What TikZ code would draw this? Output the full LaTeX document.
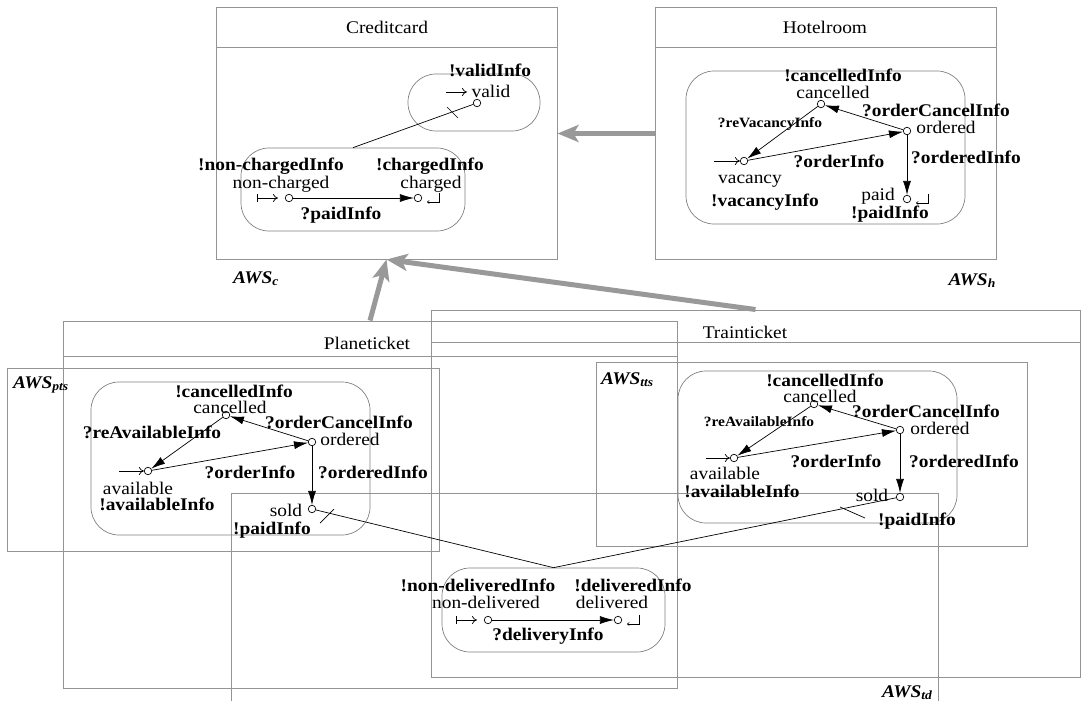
\documentclass[tikz,border=0pt]{standalone}
\usepackage{fontspec}
\setmainfont{Liberation Serif}[FakeStretch=1.09]
\usetikzlibrary{arrows.meta}

% end marker of a final state
\newcommand{\finmark}[1]{\draw[line width=0.6pt,-{To[length=2.5pt,width=3.5pt]}] ([shift={(21,-5)}]#1.center) -- ++(0,9) -- ++(-12,0);}

\begin{document}
\begin{tikzpicture}[x=1pt,y=-1pt,
    frame/.style={draw=black!42,line width=1pt,inner sep=0pt},
    region/.style={draw=black!50,line width=0.7pt,rounded corners=28pt,inner sep=0pt},
    st/.style={circle,draw,fill=white,inner sep=0pt,minimum size=7.5pt,line width=0.7pt},
    txt/.style={inner sep=0pt,text height=12pt,text depth=0pt},
    nm/.style={txt,font=\fontsize{17.8}{20}\selectfont},
    ev/.style={txt,font=\fontsize{17.8}{20}\selectfont\bfseries},
    evs/.style={inner sep=0pt,text height=10pt,text depth=0pt,font=\fontsize{14.2}{16}\selectfont\bfseries},
    aws/.style={txt,font=\fontsize{17.8}{20}\selectfont\bfseries\itshape},
    init/.style={line width=0.7pt,-{To[length=5pt,width=8pt]}},
    initbar/.style={line width=0.7pt,{Bar[width=8pt]}-{To[length=5pt,width=8pt]}},
    tr/.style={line width=0.7pt,-{Latex[length=14pt,width=8pt]}},
    link/.style={line width=0.7pt},
    inherit/.style={draw=black!40,line width=5pt,-{Stealth[length=21pt,width=17pt,inset=5pt]}}]
  \useasboundingbox (0,0) rectangle (1082,701);

  % outer frames
  \node[frame,minimum width=341pt,minimum height=251pt] (cc) at (386.5,133.5) {};
  \draw[frame] ([yshift=-40pt]cc.north west) -- ([yshift=-40pt]cc.north east);
  \node[frame,minimum width=341pt,minimum height=251pt] (hr) at (825.5,133.5) {};
  \draw[frame] ([yshift=-40pt]hr.north west) -- ([yshift=-40pt]hr.north east);
  \node[frame,minimum width=614pt,minimum height=367pt] (pt) at (370,504.5) {};
  \draw[frame] ([yshift=-36pt]pt.north west) -- ([yshift=-36pt]pt.north east);
  \node[frame,minimum width=649pt,minimum height=367pt] (tt) at (755.5,493.5) {};
  \draw[frame] ([yshift=-33pt]tt.north west) -- ([yshift=-33pt]tt.north east);
  \node[frame,minimum width=432pt,minimum height=183pt] (pts) at (223,459.5) {};
  \node[frame,minimum width=431pt,minimum height=184pt] (tts) at (811.5,454) {};
  \draw[frame] (231,705) -- (231,493) -- (938,493) -- (938,705);

  \node[nm] (ccname) at (387,28) {Creditcard};
  \node[nm] (hrname) at (825,28) {Hotelroom};
  \node[nm] (ptname) at (367,343) {Planeticket};
  \node[nm] (ttname) at (745,332) {Trainticket};
  \node[aws,anchor=west] (awsc) at (233,277) {AWS\textsubscript{c}};
  \node[aws,anchor=east] (awsh) at (996,279) {AWS\textsubscript{h}};
  \node[aws,anchor=west] (awspts) at (13,382) {AWS\textsubscript{pts}};
  \node[aws,anchor=west] (awstts) at (601,378) {AWS\textsubscript{tts}};
  \node[aws,anchor=west] (awstd) at (882,691) {AWS\textsubscript{td}};

  % inheritance
  \draw[inherit] (hr.west) -- (cc.east);
  \draw[inherit] (tt.north) -- (cc.south);
  \draw[inherit] (pt.north) -- (cc.south);

  % Creditcard
  \node[region,minimum width=132pt,minimum height=57pt] (vld) at (474,102.5) {};
  \node[region,minimum width=224pt,minimum height=83pt] (chg) at (353,189.5) {};
  \node[st] (valid) at (477,103) {};
  \node[st] (nch) at (289,198) {};
  \node[st] (chd) at (418,198) {};
  \draw[tr] (nch) -- (chd);
  \draw[link] (chg.north) -- (valid);
  \draw[link] (447,107) -- (458,118);
  \draw[init] ([shift={(-31,-11)}]valid.center) -- ++(21,0);
  \draw[initbar] ([xshift=-32pt]nch.center) -- ++(21,0);
  \finmark{chd}
  \node[ev] (cv1) at (490,71) {!validInfo};
  \node[nm] (cv3) at (491,91) {valid};
  \node[ev] (cn1) at (271,164) {!non-chargedInfo};
  \node[nm] (cn2) at (281,182) {non-charged};
  \node[ev] (cn4) at (341,213) {?paidInfo};
  \node[ev] (cd1) at (430,164) {!chargedInfo};
  \node[nm] (cd2) at (431,182) {charged};

  % Hotelroom
  \node[region,minimum width=279pt,minimum height=153pt] (hreg) at (825.5,147.5) {};
  \node[st] (hc) at (821,104) {};
  \node[st] (ho) at (907,131) {};
  \node[st] (hv) at (744,161) {};
  \node[st] (hp) at (907,199) {};
  \draw[tr] (ho) -- (hc);
  \draw[tr] (hc) -- (hv);
  \draw[tr] (hv) -- (ho);
  \draw[tr] (ho) -- (hp);
  \draw[init] ([xshift=-30pt]hv.center) -- (hv);
  \finmark{hp}
  \node[ev] (h1) at (843,75.5) {!cancelledInfo};
  \node[nm] (h2) at (833,93) {cancelled};
  \node[ev] (h3) at (936,110) {?orderCancelInfo};
  \node[nm] (h4) at (946,127) {ordered};
  \node[evs] (h5) at (770,122) {?reVacancyInfo};
  \node[nm] (h7) at (750,177) {vacancy};
  \node[ev] (h8) at (839,161) {?orderInfo};
  \node[ev] (h9) at (966,157) {?orderedInfo};
  \node[nm] (h10) at (878,194) {paid};
  \node[ev] (h11) at (890,212) {!paidInfo};
  \node[ev] (h12) at (765,200) {!vacancyInfo};

  % Planeticket
  \node[region,minimum width=279pt,minimum height=153pt] (preg) at (230.5,458.5) {};
  \node[st] (pc) at (226,415) {};
  \node[st] (po) at (312,442) {};
  \node[st] (pa) at (148,471) {};
  \node[st] (ps) at (312,509) {};
  \draw[tr] (po) -- (pc);
  \draw[tr] (pc) -- (pa);
  \draw[tr] (pa) -- (po);
  \draw[tr] (po) -- (ps);
  \draw[init] ([xshift=-29pt]pa.center) -- (pa);
  \node[ev] (p1) at (234,391) {!cancelledInfo};
  \node[nm] (p2) at (230,407) {cancelled};
  \node[ev] (p3) at (339,422) {?orderCancelInfo};
  \node[nm] (p4) at (350,439) {ordered};
  \node[ev] (p5) at (152,432) {?reAvailableInfo};
  \node[nm] (p7) at (138,488) {available};
  \node[ev] (p8) at (157,504) {!availableInfo};
  \node[ev] (p9) at (250,472) {?orderInfo};
  \node[ev] (p10) at (373,472) {?orderedInfo};
  \node[nm] (p11) at (286,510) {sold};
  \node[ev] (p12) at (272,528) {!paidInfo};

  % Trainticket
  \node[region,minimum width=279pt,minimum height=152pt] (treg) at (817.5,447) {};
  \node[st] (tc) at (814,404) {};
  \node[st] (to) at (900,430) {};
  \node[st] (ta) at (734,458) {};
  \node[st] (ts) at (900,497) {};
  \draw[tr] (to) -- (tc);
  \draw[tr] (tc) -- (ta);
  \draw[tr] (ta) -- (to);
  \draw[tr] (to) -- (ts);
  \draw[init] ([xshift=-28pt]ta.center) -- (ta);
  \node[ev] (t1) at (825,380) {!cancelledInfo};
  \node[nm] (t2) at (820,396) {cancelled};
  \node[ev] (t3) at (926,411) {?orderCancelInfo};
  \node[nm] (t4) at (940,428) {ordered};
  \node[evs] (t5) at (759,421) {?reAvailableInfo};
  \node[nm] (t7) at (725,473) {available};
  \node[ev] (t8) at (742,491) {!availableInfo};
  \node[ev] (t9) at (836,461) {?orderInfo};
  \node[ev] (t10) at (964,461) {?orderedInfo};
  \node[nm] (t11) at (872,495) {sold};
  \node[ev] (t12) at (917,519) {!paidInfo};

  % delivery
  \node[region,minimum width=223pt,minimum height=84pt] (dlv) at (553.5,610) {};
  \node[st] (dn) at (488,620) {};
  \node[st] (dd) at (618,620) {};
  \draw[tr] (dn) -- (dd);
  \draw[initbar] ([xshift=-32pt]dn.center) -- ++(21,0);
  \finmark{dd}
  \draw[link] (ps) -- (dlv.north);
  \draw[link] (ts) -- (dlv.north);
  \draw[link] (320,523) -- (334,509);
  \draw[link] (840,507) -- (865,518);
  \node[ev] (d1) at (478,585) {!non-deliveredInfo};
  \node[ev] (d2) at (633,585) {!deliveredInfo};
  \node[nm] (d3) at (486,602) {non-delivered};
  \node[nm] (d4) at (612,602) {delivered};
  \node[ev] (d6) at (548,634) {?deliveryInfo};
\end{tikzpicture}
\end{document}
